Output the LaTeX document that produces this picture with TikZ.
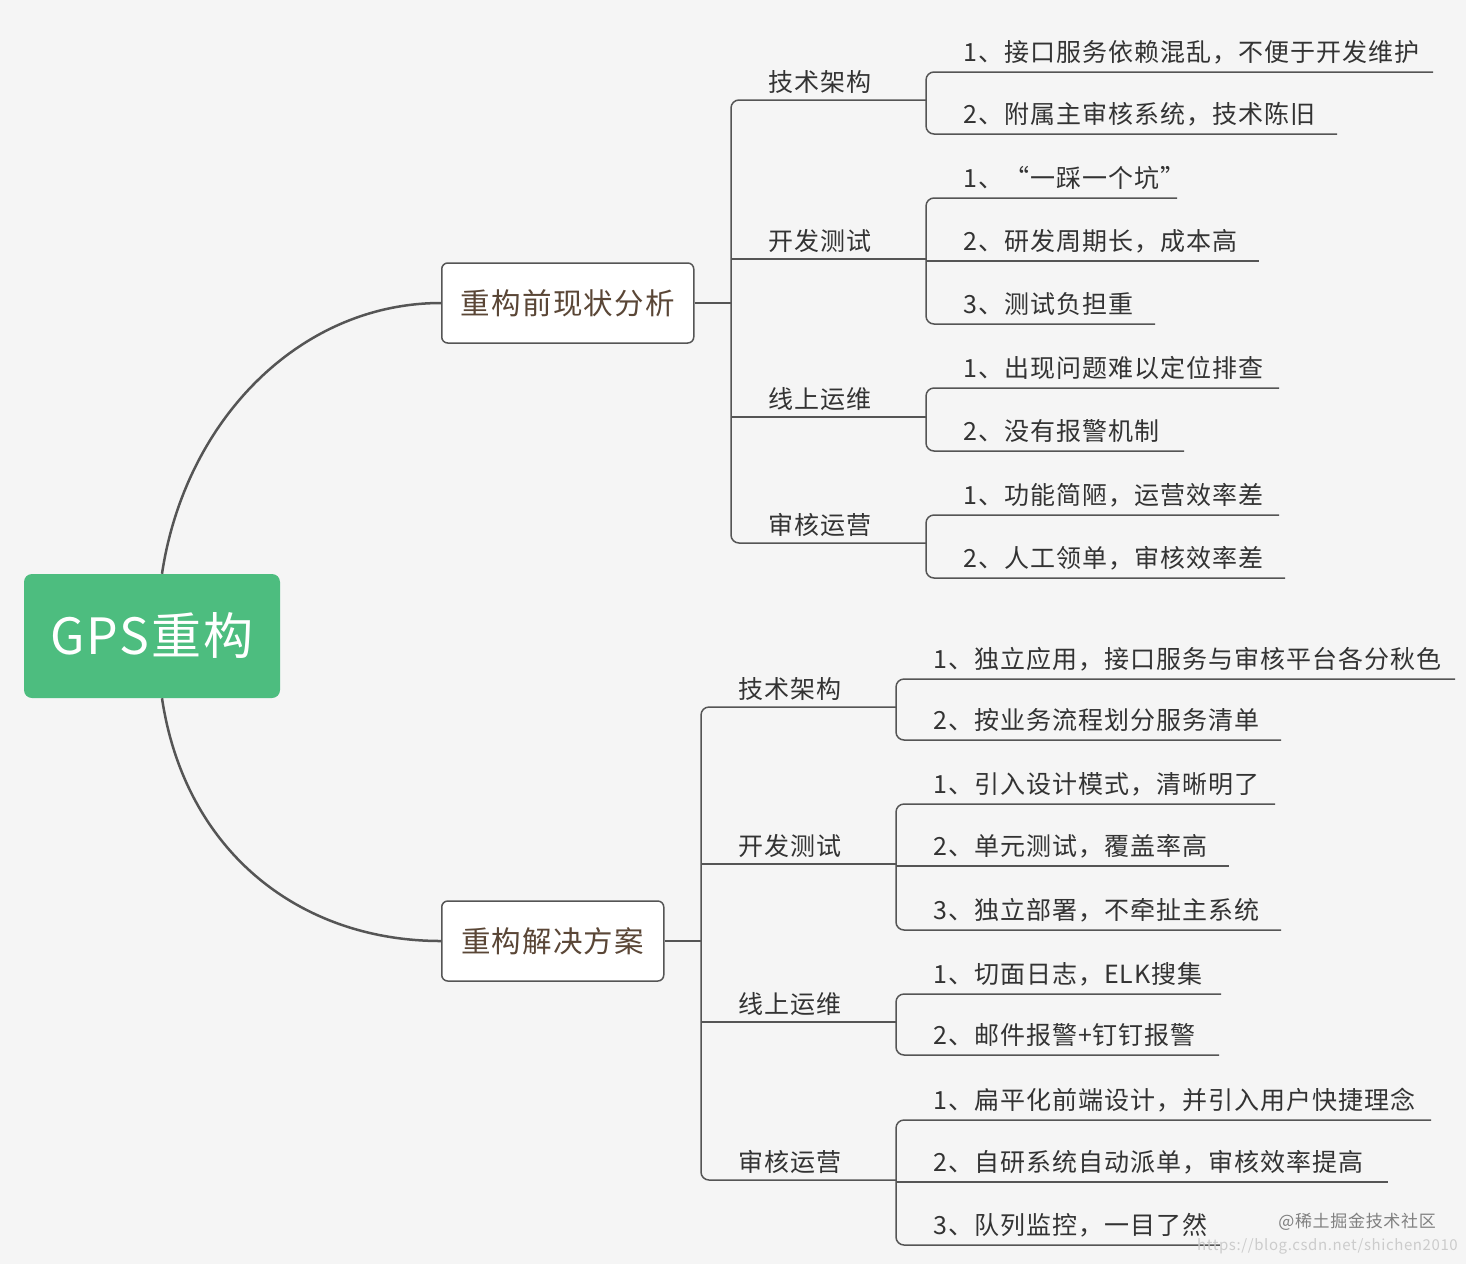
\documentclass[tikz,border=0pt]{standalone}
\usepackage{fontspec}
\setmainfont{Noto Sans CJK SC}[LetterSpace=4]
\definecolor{bgc}{HTML}{F5F5F5}
\definecolor{lnc}{HTML}{555555}
\definecolor{rootc}{HTML}{4DBD7F}
\definecolor{txc}{HTML}{333333}
\definecolor{l1c}{HTML}{5A4636}
\tikzset{
  br/.style={draw=lnc,line width=1.5pt},
  bigcurve/.style={draw=lnc,line width=2.5pt},
  leaftxt/.style={font=\fontsize{25}{27}\selectfont,text=txc,anchor=south west,inner sep=0pt},
  cattxt/.style={font=\fontsize{25}{27}\selectfont,text=txc,anchor=south west,inner sep=0pt},
  lvbox/.style={draw=lnc,line width=1.5pt,fill=white,rounded corners=6pt,font=\fontsize{29.5}{31}\selectfont,text=l1c,anchor=west,inner sep=0pt},
}
\newcommand\lfx[4]{\node[leaftxt] (#1) at (#3,#2-8) {#4};}
\begin{document}
\begin{tikzpicture}[x=1pt,y=-1pt]
\fill[bgc] (0,0) rectangle (1466,1264);
\useasboundingbox (0,0) rectangle (1466,1264);
% root
\node[fill=rootc,rounded corners=8pt,minimum width=256pt,minimum height=124pt,text=white,font=\fontsize{50}{52}\selectfont,inner sep=0pt] (root) at (152,636) {GPS重构};
\node[lvbox,minimum width=252pt,minimum height=80pt,text width=252pt,align=center] (b1) at (441,303) {重构前现状分析};
\node[lvbox,minimum width=222pt,minimum height=80pt,text width=222pt,align=center] (b2) at (441,941) {重构解决方案};
\draw[bigcurve] (root.north) ++(10,0) coordinate (rt) .. controls (185,420) and (300,303) .. (b1.west);
\draw[bigcurve] (root.south) ++(10,0) coordinate (rb) .. controls (185,852) and (300,941) .. (b2.west);
% top section
\draw[br] (b1.east) -- (731,303);
\draw[br,rounded corners=8pt] (926,100) -- (731,100) -- (731,543) -- (926,543);
\draw[br] (731,259) -- (926,259);
\draw[br] (731,417) -- (926,417);
\node[cattxt] (c1) at (768,100-6) {技术架构};
\node[cattxt] (c2) at (768,259-6) {开发测试};
\node[cattxt] (c3) at (768,417-6) {线上运维};
\node[cattxt] (c4) at (768,543-6) {审核运营};
\draw[br,rounded corners=8pt] (1433,72) -- (926,72) -- (926,134) -- (1337,134);
\lfx{a11}{72}{963}{1、接口服务依赖混乱，不便于开发维护}
\lfx{a12}{134}{963}{2、附属主审核系统，技术陈旧}
\draw[br,rounded corners=8pt] (1177,198) -- (926,198) -- (926,324) -- (1155,324);
\draw[br] (926,261) -- (1259,261);
\lfx{a21}{198}{963}{1、“一踩一个坑”}
\lfx{a22}{261}{963}{2、研发周期长，成本高}
\lfx{a23}{324}{963}{3、测试负担重}
\draw[br,rounded corners=8pt] (1279,388) -- (926,388) -- (926,451) -- (1184,451);
\lfx{a31}{388}{963}{1、出现问题难以定位排查}
\lfx{a32}{451}{963}{2、没有报警机制}
\draw[br,rounded corners=8pt] (1279,515) -- (926,515) -- (926,578) -- (1285,578);
\lfx{a41}{515}{963}{1、功能简陋，运营效率差}
\lfx{a42}{578}{963}{2、人工领单，审核效率差}
% bottom section
\draw[br] (b2.east) -- (701,941);
\draw[br,rounded corners=8pt] (896,707) -- (701,707) -- (701,1180) -- (896,1180);
\draw[br] (701,864) -- (896,864);
\draw[br] (701,1022) -- (896,1022);
\node[cattxt] (d1) at (738,707-6) {技术架构};
\node[cattxt] (d2) at (738,864-6) {开发测试};
\node[cattxt] (d3) at (738,1022-6) {线上运维};
\node[cattxt] (d4) at (738,1180-6) {审核运营};
\draw[br,rounded corners=8pt] (1455,679) -- (896,679) -- (896,740) -- (1281,740);
\lfx{e11}{679}{933}{1、独立应用，接口服务与审核平台各分秋色}
\lfx{e12}{740}{933}{2、按业务流程划分服务清单}
\draw[br,rounded corners=8pt] (1275,804) -- (896,804) -- (896,930) -- (1281,930);
\draw[br] (896,866) -- (1229,866);
\lfx{e21}{804}{933}{1、引入设计模式，清晰明了}
\lfx{e22}{866}{933}{2、单元测试，覆盖率高}
\lfx{e23}{930}{933}{3、独立部署，不牵扯主系统}
\draw[br,rounded corners=8pt] (1221,994) -- (896,994) -- (896,1055) -- (1219,1055);
\lfx{e31}{994}{933}{1、切面日志，ELK搜集}
\lfx{e32}{1055}{933}{2、邮件报警+钉钉报警}
\draw[br,rounded corners=8pt] (1431,1120) -- (896,1120) -- (896,1245) -- (1220,1245);
\draw[br] (896,1182) -- (1388,1182);
\lfx{e41}{1120}{933}{1、扁平化前端设计，并引入用户快捷理念}
\lfx{e42}{1182}{933}{2、自研系统自动派单，审核效率提高}
\lfx{e43}{1245}{933}{3、队列监控，一目了然}
% watermarks
\node[font=\fontsize{17}{18}\selectfont,text=gray,anchor=east,inner sep=0pt] (w1) at (1436,1222) {@稀土掘金技术社区};
\node[font=\fontsize{15}{16}\selectfont,text=gray!40,anchor=east,inner sep=0pt] (w2) at (1458,1246) {https://blog.csdn.net/shichen2010};
\end{tikzpicture}
\end{document}
